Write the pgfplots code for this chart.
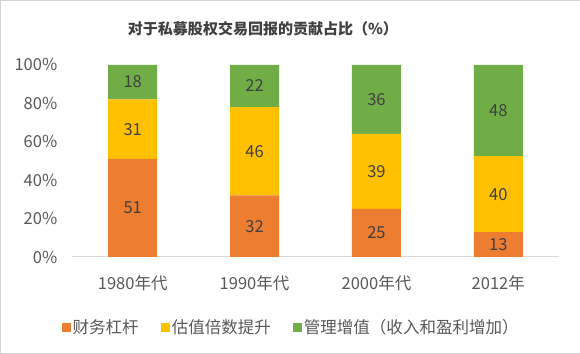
\documentclass[border=0pt]{standalone}
\usepackage{fontspec}
\setmainfont{Noto Sans CJK SC}
\usepackage{pgfplots}
\pgfplotsset{compat=1.18}
\definecolor{cOr}{HTML}{ED7D31}
\definecolor{cYe}{HTML}{FFC000}
\definecolor{cGr}{HTML}{70AD47}
\definecolor{txt}{HTML}{595959}
\definecolor{lab}{HTML}{404040}
\pgfplotsset{geom/.style={at={(72pt,97pt)}, anchor=south west,
  width=487pt, height=192pt, scale only axis,
  xmin=-0.5, xmax=3.5, ymin=0, ymax=100}}
\begin{document}
\begin{tikzpicture}
\draw[fill=white,draw=gray!35] (0.5pt,0.5pt) rectangle (579.5pt,353.5pt);
\node[font=\fontsize{15}{17}\selectfont\bfseries, text=lab] at (263pt,324.5pt) {对于私募股权交易回报的贡献占比（\%）};
\begin{axis}[geom,
  ybar stacked, bar width=49pt,
  xtick={0,1,2,3},
  xticklabels={1980年代,1990年代,2000年代,2012年},
  ytick={0,20,...,100},
  yticklabel={\pgfmathprintnumber{\tick}\%},
  /pgf/number format/assume math mode=true,
  axis x line*=bottom, axis y line*=left,
  y axis line style={draw=none},
  x axis line style={draw=black!15, line width=1pt},
  major tick length=0pt,
  tick label style={font=\fontsize{16.5}{18}\selectfont, text=txt},
  xticklabel style={yshift=-15pt},
  yticklabel style={xshift=-11pt},
  legend style={draw=none, fill=none, at={(axis description cs:0.45,-0.365)}, anchor=center, legend columns=3,
    font=\fontsize{16.5}{18}\selectfont, text=txt,
    /tikz/every even column/.append style={column sep=20pt}},
  legend image code/.code={\fill[#1] (0pt,-4.5pt) rectangle (9pt,4.5pt);},
]
\addplot[fill=cOr, draw=none] coordinates {(0,51) (1,32) (2,25) (3,12.87)};
\addplot[fill=cYe, draw=none] coordinates {(0,31) (1,46) (2,39) (3,39.60)};
\addplot[fill=cGr, draw=none] coordinates {(0,18) (1,22) (2,36) (3,47.53)};
\legend{财务杠杆,估值倍数提升,管理增值（收入和盈利增加）}
\end{axis}
\begin{axis}[geom, hide axis, clip=false,
  point meta=explicit symbolic,
  nodes near coords,
  every node near coord/.append style={font=\fontsize{16.5}{18}\selectfont, text=lab, anchor=center},
]
\addplot[draw=none, mark=none] coordinates {(0,25.5)[51] (1,16)[32] (2,12.5)[25] (3,6.6)[13]};
\addplot[draw=none, mark=none] coordinates {(0,66.5)[31] (1,55)[46] (2,44.5)[39] (3,32.67)[40]};
\addplot[draw=none, mark=none] coordinates {(0,91)[18] (1,89)[22] (2,82)[36] (3,76.24)[48]};
\end{axis}
\end{tikzpicture}
\end{document}
